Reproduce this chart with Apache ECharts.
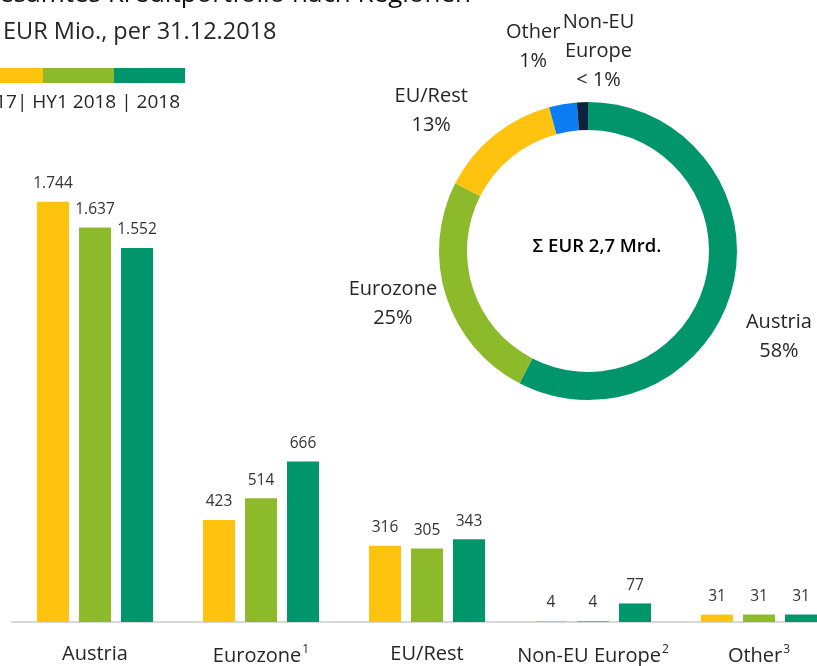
<!DOCTYPE html>
<html><head><meta charset="utf-8">
<script src="https://cdn.jsdelivr.net/npm/echarts@6/dist/echarts.min.js"></script>
<style>html,body{margin:0;padding:0;background:#fff;overflow:hidden;width:817px;height:666px}#c{width:842px;height:666px}</style>
</head><body><div id="c"></div>
<script>
// ---- data ----
const categories = ['Austria', 'Eurozone', 'EU/Rest', 'Non-EU Europe', 'Other'];
const footnotes = ['', '1', '', '2', '3'];
const seriesNames = ['2017', 'HY1 2018', '2018'];
const values2017 = [1744, 423, 316, 4, 31];
const valuesHY1 = [1637, 514, 305, 4, 31];
const values2018 = [1552, 666, 343, 77, 31];
const pieNames = ['Austria', 'Eurozone', 'EU/Rest', 'Other', 'Non-EU\nEurope'];
const pieShares = [57.6, 24.9, 13.3, 3.0, 1.2];
const pieLabels = ['58%', '25%', '13%', '1%', '< 1%'];
const titleText = 'Gesamtes Kreditportfolio nach Regionen';
const subtitleText = 'EUR Mio., per 31.12.2018';
const legendText = '2017| HY1 2018 | 2018';
const totalText = 'Σ EUR 2,7 Mrd.';

// ---- style ----
const FONT = '"Open Sans", sans-serif';
const barColors = ['#FFC20E', '#8DBA2A', '#00956B'];
const pieColors = ['#00956B', '#8DBA2A', '#FFC20E', '#0A7DF5', '#0C2340'];
const pieCenter = [588, 251];
const pieLabelPolar = [[114, 209], [255, 202], [312, 211], [345, 212], [3, 201]];

function fmt(v) { return String(v).replace(/\B(?=(\d{3})+(?!\d))/g, '.'); }

const chart = echarts.init(document.getElementById('c'), null, { renderer: 'canvas' });

const barSeries = [values2017, valuesHY1, values2018].map((vals, i) => ({
  name: seriesNames[i],
  type: 'bar',
  data: vals,
  barWidth: 32,
  barGap: '31.25%',
  itemStyle: { color: barColors[i] },
  label: {
    show: true, position: 'top', distance: 10,
    fontFamily: FONT, fontSize: 15.5, color: '#333',
    formatter: p => fmt(p.value)
  },
  silent: true,
  animation: false
}));

const option = {
  animation: false,
  textStyle: { fontFamily: FONT },
  grid: { left: 12, right: 0, top: 140, bottom: 42, containLabel: false },
  xAxis: {
    type: 'category',
    data: categories,
    axisLine: { lineStyle: { color: '#D9D9D9', width: 2 } },
    axisTick: { show: false },
    axisLabel: {
      margin: 22,
      interval: 0,
      formatter: (v, i) => footnotes[i] ? v + '{sup|' + footnotes[i] + '}' : v,
      fontFamily: FONT, fontSize: 20, color: '#262626',
      rich: {
        sup: { fontFamily: FONT, fontSize: 12, color: '#262626', verticalAlign: 'top', padding: [0, 0, 12, 1] }
      }
    }
  },
  yAxis: { type: 'value', min: 0, max: 2000, show: false, splitLine: { show: false } },
  series: barSeries.concat([{
    type: 'pie',
    center: pieCenter,
    radius: [121, 149],
    startAngle: 90,
    clockwise: true,
    silent: true,
    data: pieShares.map((v, i) => ({ value: v, name: pieNames[i], itemStyle: { color: pieColors[i] } })),
    label: {
      show: true, position: 'outside', overflow: 'none',
      fontFamily: FONT, fontSize: 20, lineHeight: 29, color: '#262626',
      formatter: p => pieNames[p.dataIndex] + '\n' + pieLabels[p.dataIndex]
    },
    labelLine: { show: false },
    labelLayout: function (p) {
      const a = pieLabelPolar[p.dataIndex];
      const r = a[0] * Math.PI / 180;
      return { x: pieCenter[0] + a[1] * Math.sin(r), y: pieCenter[1] + 1 - a[1] * Math.cos(r), align: 'center', verticalAlign: 'middle' };
    }
  }]),
  graphic: [
    { type: 'text', x: 471, y: 8, style: { text: titleText, font: '26px "Open Sans"', fill: '#111', textAlign: 'right', textVerticalAlign: 'bottom' } },
    { type: 'text', x: 3, y: 32, style: { text: subtitleText, font: '23.5px "Open Sans"', fill: '#262626', textAlign: 'left', textVerticalAlign: 'middle' } },
    { type: 'rect', shape: { x: -5, y: 68, width: 48, height: 15 }, style: { fill: barColors[0] } },
    { type: 'rect', shape: { x: 43, y: 68, width: 71, height: 15 }, style: { fill: barColors[1] } },
    { type: 'rect', shape: { x: 114, y: 68, width: 71, height: 15 }, style: { fill: barColors[2] } },
    { type: 'text', x: 180, y: 103, style: { text: legendText, font: '19px "Open Sans"', fill: '#262626', textAlign: 'right', textVerticalAlign: 'middle' } },
    { type: 'text', x: 597, y: 247, style: { text: totalText, font: '600 18.5px "Open Sans"', fill: '#000', textAlign: 'center', textVerticalAlign: 'middle' } }
  ]
};
chart.setOption(option);
</script>
</body></html>
